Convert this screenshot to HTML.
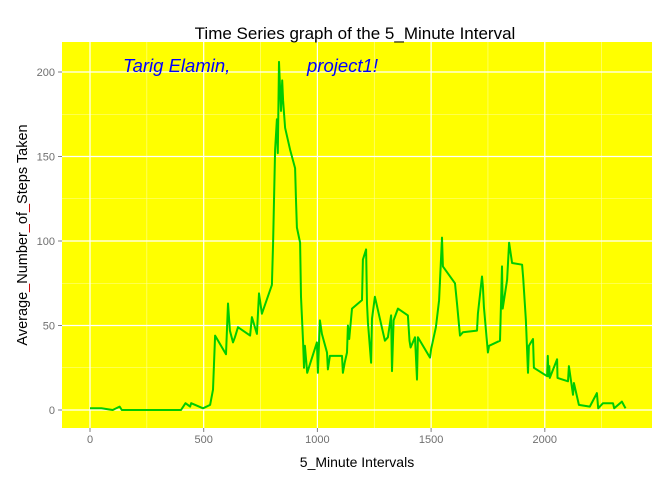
<!DOCTYPE html>
<html><head><meta charset="utf-8"><style>
body{margin:0;background:#fff;font-family:"Liberation Sans",sans-serif}
</style></head><body>
<svg id="c" width="672" height="480" xmlns="http://www.w3.org/2000/svg">
<rect x="62" y="42" width="590" height="386" fill="#ffff00"/>
<g id="grid"></g><g id="axes"></g>
<path id="line" fill="none" stroke="#00cc00" stroke-width="2" stroke-linejoin="round"/>
<text x="355" y="39" text-anchor="middle" font-size="17" fill="#000">Time Series graph of the 5_Minute Interval</text>
<text x="123" y="72" font-size="18.5" font-style="italic" fill="#0000ff">Tarig Elamin,</text>
<text x="307" y="72" font-size="18.5" font-style="italic" fill="#0000ff">project1!</text>
<text x="357" y="467" text-anchor="middle" font-size="14" fill="#000">5_Minute Intervals</text>
<text transform="translate(27,235) rotate(-90)" text-anchor="middle" font-size="14.5" fill="#000">Average<tspan fill="#cc0000">_</tspan>Number<tspan fill="#cc0000">_</tspan>of<tspan fill="#cc0000">_</tspan>Steps Taken</text>
</svg>
<script>
const intervals=[0,50,100,130,140,200,300,400,420,440,445,497,528,541,550,598,607,615,629,637,651,704,712,734,743,756,800,805,814,822,826,831,840,845,849,858,880,902,906,910,924,928,937,941,945,955,998,1002,1011,1020,1042,1046,1055,1108,1112,1120,1130,1134,1140,1152,1196,1200,1214,1218,1222,1236,1240,1253,1297,1310,1324,1328,1335,1354,1398,1405,1410,1429,1438,1442,1495,1500,1521,1535,1548,1552,1605,1614,1627,1640,1702,1706,1724,1728,1732,1750,1755,1803,1812,1815,1834,1843,1856,1900,1905,1917,1926,1930,1948,1952,2010,2013,2016,2020,2022,2054,2056,2102,2106,2124,2128,2150,2198,2229,2235,2256,2300,2305,2339,2355];
const steps=[1,1,0,2,0,0,0,0,4,2,4,1,3,12,44,33,63,47,40,43,49,44,55,45,69,57,74,99,154,172,152,206,177,195,183,167,154,143,124,108,99,67,40,25,38,22,40,22,53,45,34,24,32,32,22,28,34,50,42,60,65,89,95,63,52,28,54,67,41,43,56,23,53,60,56,41,37,43,18,43,31,36,49,65,102,85,75,63,44,46,47,57,79,73,61,34,38,41,85,60,77,99,87,86,78,53,22,38,42,25,20,32,20,26,19,30,19,17,26,9,16,3,2,10,1,4,4,1,5,1];
const xTicks=[0,500,1000,1500,2000];
const yTicks=[0,50,100,150,200];
const X=v=>90+v*113.7/500, Y=v=>410-v*84.5/50;
const ns="http://www.w3.org/2000/svg";
const grid=document.getElementById('grid'),axes=document.getElementById('axes');
function mk(p,t,a){const e=document.createElementNS(ns,t);for(const k in a)e.setAttribute(k,a[k]);p.appendChild(e);return e;}
[250,750,1250,1750,2250].forEach(v=>{const l=mk(grid,'line',{x1:X(v),x2:X(v),y1:42,y2:428,stroke:'#ffff99','stroke-width':0.6});

});
[25,75,125,175].forEach(v=>{const l=mk(grid,'line',{x1:62,x2:652,y1:Y(v),y2:Y(v),stroke:'#ffff99','stroke-width':0.6});

});
xTicks.forEach(v=>{const l=mk(grid,'line',{x1:X(v),x2:X(v),y1:42,y2:428,stroke:'#fff','stroke-width':1.2});


const t=mk(axes,'line',{x1:X(v),x2:X(v),y1:428,y2:432,stroke:'#7f7f7f'});


const tx=mk(axes,'text',{x:X(v),y:443,'text-anchor':'middle','font-size':11,fill:'#6f6f6f'});tx.textContent=v;

});
yTicks.forEach(v=>{const l=mk(grid,'line',{x1:62,x2:652,y1:Y(v),y2:Y(v),stroke:'#fff','stroke-width':1.2});


const t=mk(axes,'line',{x1:58,x2:62,y1:Y(v),y2:Y(v),stroke:'#7f7f7f'});


const tx=mk(axes,'text',{x:55,y:Y(v)+4,'text-anchor':'end','font-size':11,fill:'#6f6f6f'});tx.textContent=v;

});
document.getElementById('line').setAttribute('d',intervals.map((v,i)=>(i?'L':'M')+X(v).toFixed(1)+','+Y(steps[i]).toFixed(1)).join(''));
</script>
</body></html>
